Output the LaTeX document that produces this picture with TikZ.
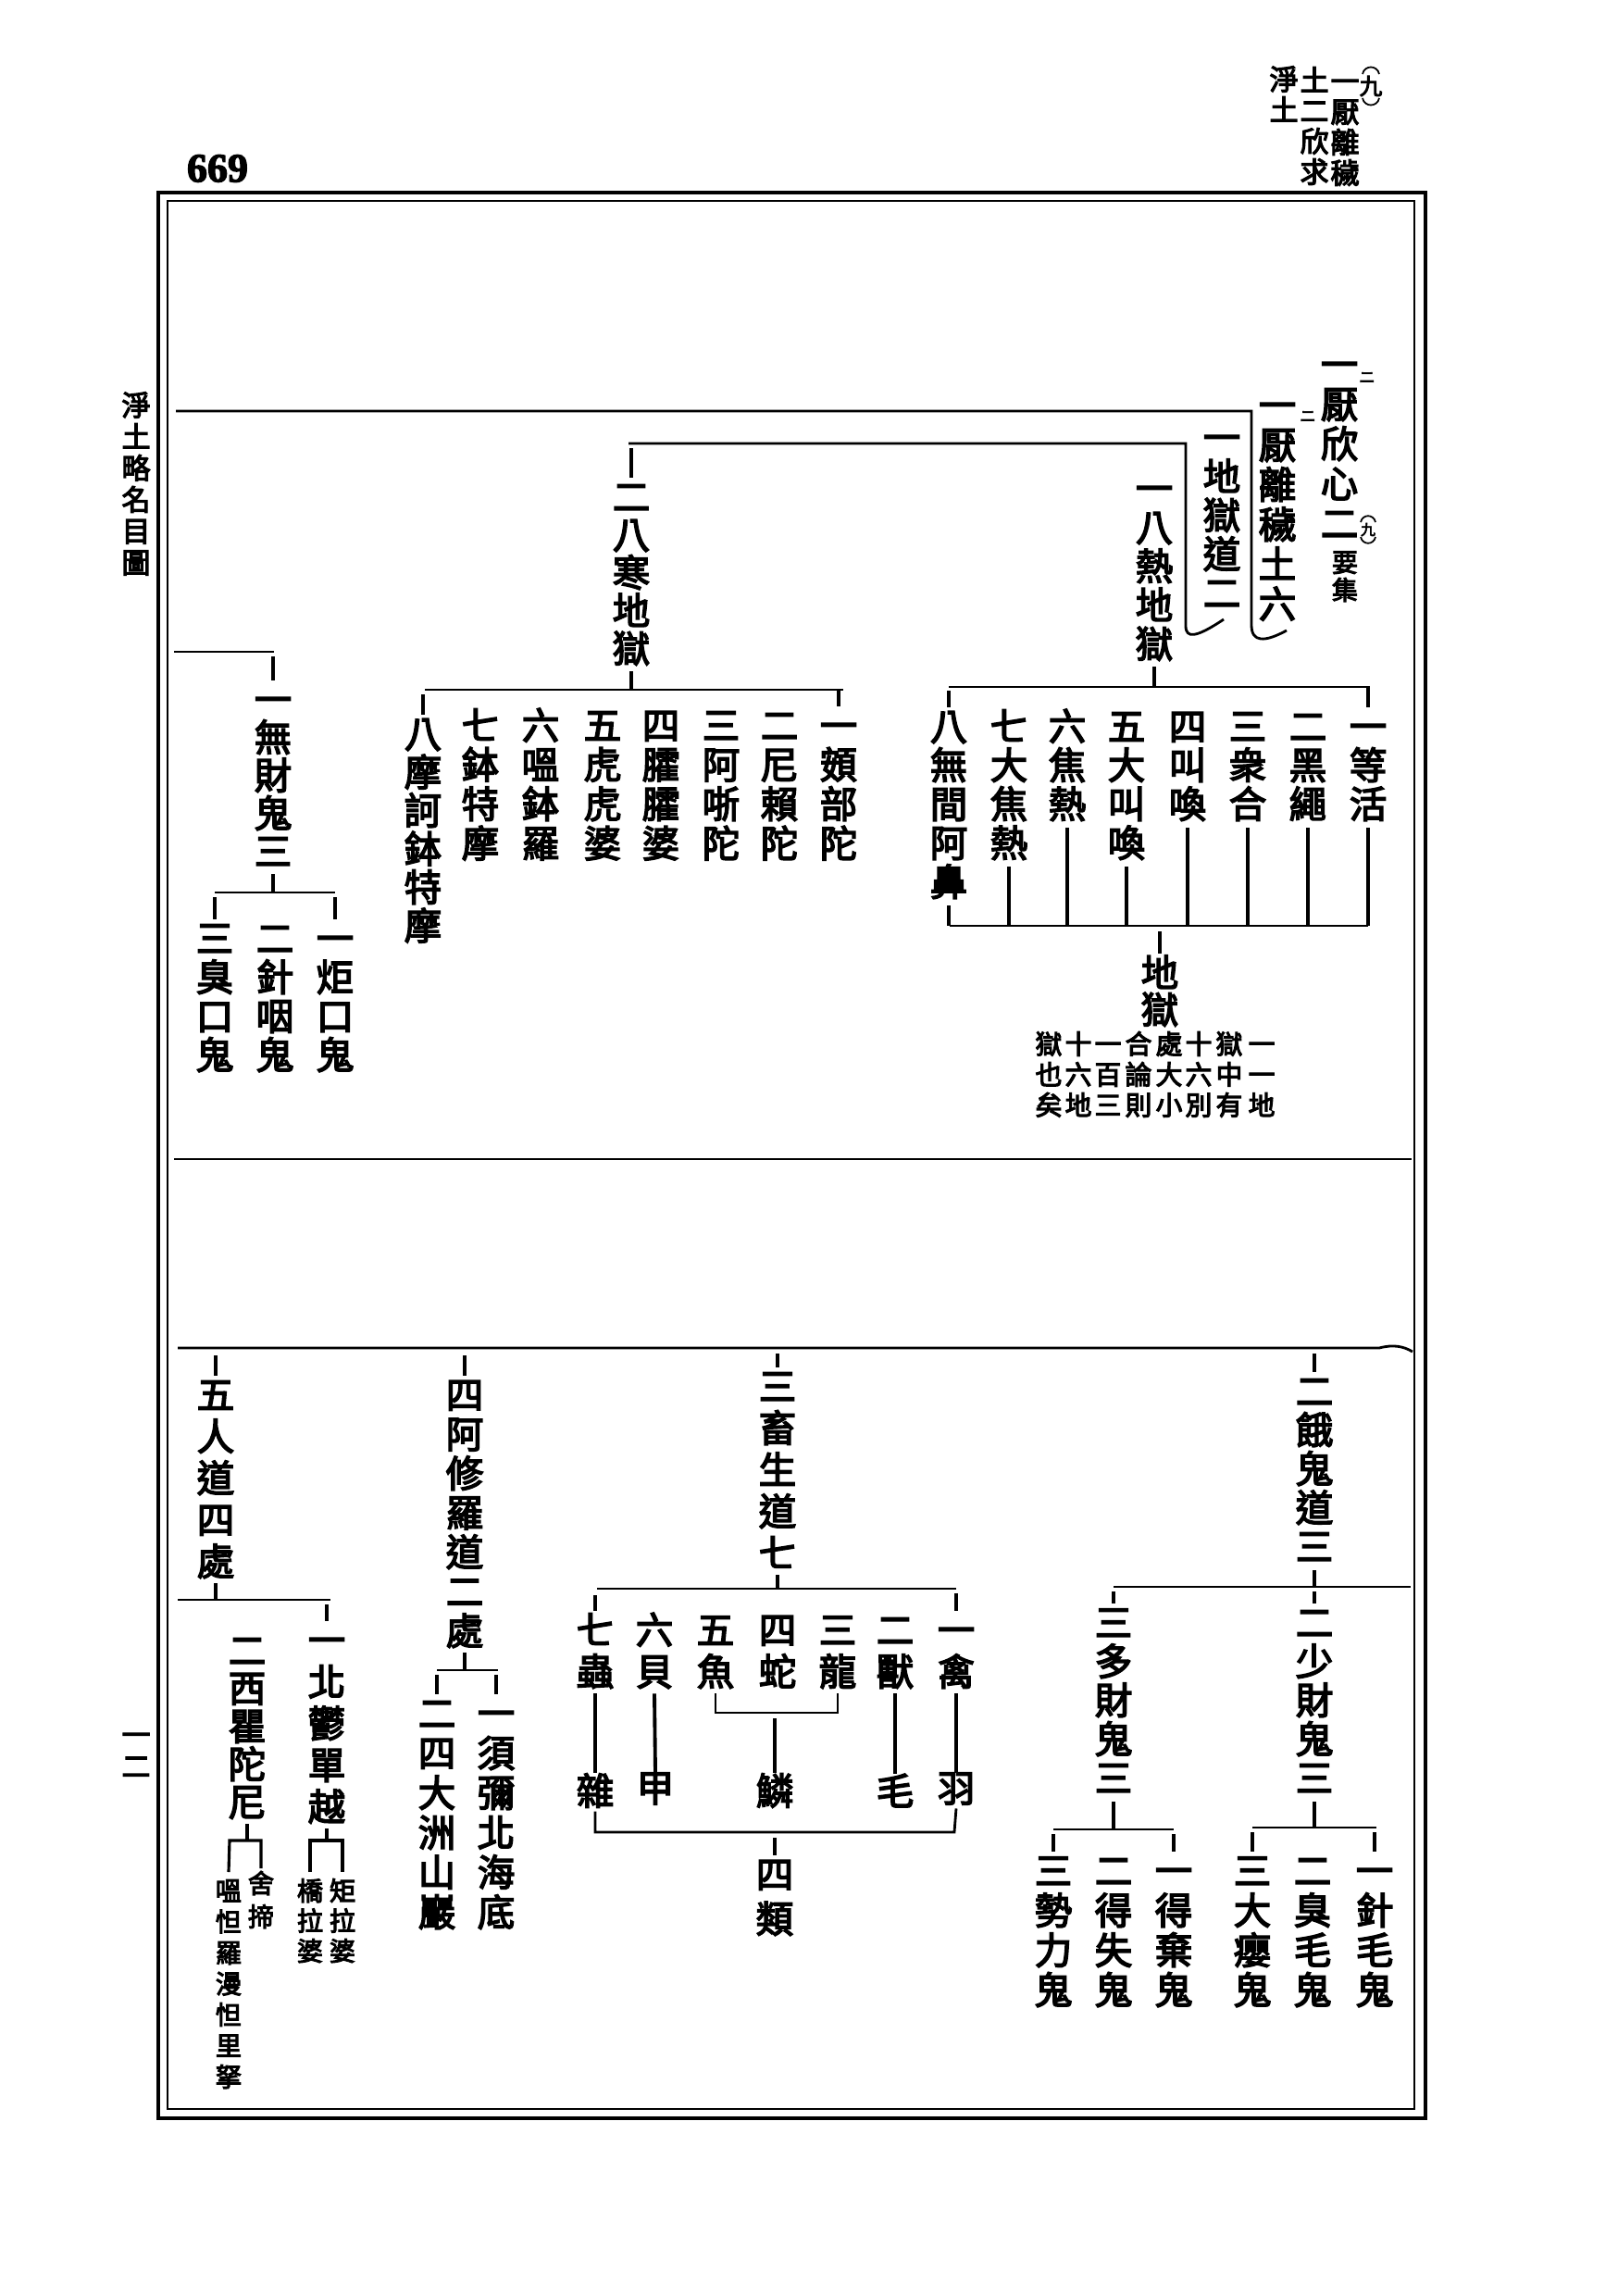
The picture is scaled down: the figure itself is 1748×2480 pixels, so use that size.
\documentclass[tikz,border=0pt]{standalone}
\usepackage{fontspec}
\setmainfont{Noto Sans CJK TC}[FakeBold=4]
\newfontfamily\numfont{Liberation Serif}[FakeBold=3]
\usetikzlibrary{calc}
\makeatletter
\newcommand\vt[2][11.95pt]{\vbox{\baselineskip=#1\lineskip=0pt\lineskiplimit=-\maxdimen\vt@a#2\vt@end}}
\def\vt@a#1{\ifx#1\vt@end\else\hbox to 1em{\hss\vrule height .88em depth .12em width 0pt\relax#1\hss}\expandafter\vt@a\fi}
\def\vt@end{\vt@end@}
\makeatother
\begin{document}
\begin{tikzpicture}[x=0.1mm,y=-0.1mm,
  every node/.style={inner sep=0pt,outer sep=0pt},
  col/.style={anchor=north,font=\fontsize{11.5}{12}\selectfont},
  scol/.style={anchor=north,font=\fontsize{8}{9}\selectfont},
  ncol/.style={anchor=north,font=\fontsize{8.2}{9}\selectfont},
  hcol/.style={anchor=north,font=\fontsize{8.8}{9}\selectfont},
  ch/.style={anchor=center,font=\fontsize{11.5}{12}\selectfont},
  tiny/.style={anchor=center,font=\fontsize{5}{5}\selectfont},
  ln/.style={line width=0.8pt},
  tk/.style={line width=0.9pt},
  par/.style={line width=0.5pt}]
\useasboundingbox (0,0) rectangle (1748,2480);
\fill[white] (0,0) rectangle (1748,2480);

% ---------- frame ----------
\draw[line width=1.3pt] (171,208) rectangle (1540,2288);
\draw[line width=0.7pt] (181,217) rectangle (1528,2278);

% ---------- header ----------
\node[font={\numfont\fontsize{12.5}{12.5}\selectfont\bfseries}] (pg) at (235,182) {669};
\node[font=\fontsize{7}{7}\selectfont] (hnine) at (1481,93) {九};
\draw[par] ($(hnine)+(-9,-13)$) .. controls ($(hnine)+(-7,-23)$) and ($(hnine)+(7,-23)$) .. ($(hnine)+(9,-13)$);
\draw[par] ($(hnine)+(-9,13)$) .. controls ($(hnine)+(-7,23)$) and ($(hnine)+(7,23)$) .. ($(hnine)+(9,13)$);
\node[hcol] (hA) at (1453,72) {\vt[9.39pt]{一厭離穢}};
\node[hcol] (hB) at (1420,71) {\vt[9.39pt]{土二欣求}};
\node[hcol] (hC) at (1387,70) {\vt[9.39pt]{淨土}};
\node[hcol] (side) at (147,422) {\vt[9.67pt]{淨土略名目圖}};
\node[hcol] (folio) at (147,1858) {\vt[9.67pt]{一二}};

% ---------- top section ----------
\node[col] (root) at (1447,373) {\vt[12.23pt]{一厭欣心二}};
\node[scol] (yaoji) at (1453,593) {\vt[8.54pt]{要集}};
\node[font=\fontsize{4.5}{5}\selectfont] (nine) at (1478,572) {九};
\draw[par] ($(nine)+(-8,-8)$) .. controls ($(nine)+(-6,-17)$) and ($(nine)+(6,-17)$) .. ($(nine)+(8,-8)$);
\draw[par] ($(nine)+(-8,8)$) .. controls ($(nine)+(-6,17)$) and ($(nine)+(6,17)$) .. ($(nine)+(8,8)$);
\node[tiny] (ni1) at (1477,408) {ニ};
\node[col] (enri) at (1380,417) {\vt[12.23pt]{一厭離穢土六}};
\node[tiny] (ni2) at (1413,450) {ニ};
\node[col] (jigokudo) at (1320,452) {\vt[11.95pt]{一地獄道二}};
\node[col] (netsu) at (1247,507) {\vt[11.95pt]{一八熱地獄}};
\node[col] (kan) at (682,516) {\vt[11.66pt]{二八寒地獄}};

% brackets
\coordinate (b444) at (190,444);
\draw[ln] (b444) -- (1352,444) -- (1352,675) .. controls (1352,694) and (1366,694) .. (1390,681);
\coordinate (b480) at (679,479);
\draw[ln] (b480) -- (1281,479) -- (1281,676) .. controls (1281,690) and (1292,689) .. (1322,669);
\draw[tk] (kan.north |- b480) ++(0,5) -- (kan.north);

% eight hot hells
\coordinate (h1) at (1025,742);
\draw[ln] (h1) -- (1480,742);
\draw[tk] (netsu.south) ++(0,5) -- (netsu.south |- h1);
\node[col] (n1) at (1478,764) {\vt{一等活}};
\node[col] (n2) at (1413,764) {\vt{二黑繩}};
\node[col] (n3) at (1348,764) {\vt{三衆合}};
\node[col] (n4) at (1283,764) {\vt{四叫喚}};
\node[col] (n5) at (1217,764) {\vt{五大叫喚}};
\node[col] (n6) at (1153,764) {\vt{六焦熱}};
\node[col] (n7) at (1090,764) {\vt{七大焦熱}};
\node[col] (n8) at (1025,764) {\vt{八無間阿鼻}};
\draw[tk] (n1.north |- h1) -- (n1.north);
\draw[tk] (n8.north |- h1) ++(0,4) -- (n8.north);
\coordinate (h2) at (1026,1000);
\draw[ln] (h2) -- (1478,1000);
\foreach \n in {n1,n2,n3,n4,n5,n6,n7,n8}{
  \draw[line width=1.1pt] (\n.south) ++(0,6) -- (\n.south |- h2);
}
\node[col] (jg) at (1253,1030) {\vt[11.38pt]{地獄}};
\draw[tk] (jg.north |- h2) ++(0,6) -- (jg.north);
\node[ncol] (nt1) at (1363,1113) {\vt[9.39pt]{一一地}};
\node[ncol] (nt2) at (1328,1113) {\vt[9.39pt]{獄中有}};
\node[ncol] (nt3) at (1295,1113) {\vt[9.39pt]{十六別}};
\node[ncol] (nt4) at (1263,1113) {\vt[9.39pt]{處大小}};
\node[ncol] (nt5) at (1230,1113) {\vt[9.39pt]{合論則}};
\node[ncol] (nt6) at (1197,1113) {\vt[9.39pt]{一百三}};
\node[ncol] (nt7) at (1165,1113) {\vt[9.39pt]{十六地}};
\node[ncol] (nt8) at (1133,1113) {\vt[9.39pt]{獄也矣}};

% eight cold hells
\coordinate (h3) at (459,745);
\draw[ln] (h3) -- (911,745);
\draw[tk] (kan.south) ++(0,5) -- (kan.south |- h3);
\node[col] (c1) at (906,763) {\vt[12.09pt]{一頞部陀}};
\node[col] (c2) at (842,763) {\vt[12.09pt]{二尼賴陀}};
\node[col] (c3) at (779,763) {\vt[12.09pt]{三阿哳陀}};
\node[col] (c4) at (714,763) {\vt[12.09pt]{四臛臛婆}};
\node[col] (c5) at (651,763) {\vt[12.09pt]{五虎虎婆}};
\node[col] (c6) at (584,763) {\vt[12.09pt]{六嗢鉢羅}};
\node[col] (c7) at (519,763) {\vt[12.09pt]{七鉢特摩}};
\node[col] (c8) at (457,772) {\vt[11.8pt]{八摩訶鉢特摩}};
\draw[tk] (c1.north |- h3) -- (c1.north);
\draw[tk] (c8.north |- h3) ++(0,5) -- (c8.north);

% hungry ghosts without wealth
\coordinate (h4) at (188,704);
\draw[ln] (h4) -- (296,704);
\node[col] (mz) at (295,735) {\vt[11.66pt]{一無財鬼三}};
\draw[tk] (mz.north |- h4) ++(0,5) -- (mz.north);
\coordinate (h5) at (232,964);
\draw[ln] (h5) -- (362,964);
\draw[tk] (mz.south) ++(0,5) -- (mz.south |- h5);
\node[col] (m1) at (362,993) {\vt{一炬口鬼}};
\node[col] (m2) at (297,993) {\vt{二針咽鬼}};
\node[col] (m3) at (232,993) {\vt{三臭口鬼}};
\draw[tk] (m1.north |- h5) ++(0,5) -- (m1.north);
\draw[tk] (m3.north |- h5) ++(0,5) -- (m3.north);

% dividers
\coordinate (d1) at (188,1252);
\draw[ln] (d1) -- (1525,1252);
\coordinate (d2) at (192,1456);
\draw[ln] (d2) -- (1490,1456) .. controls (1505,1452) and (1516,1454) .. (1526,1460);

% ---------- bottom section ----------
% hungry ghosts
\node[col] (gaki) at (1420,1482) {\vt[11.95pt]{二餓鬼道三}};
\draw[tk] (gaki.north |- d2) ++(0,6) -- (gaki.north);
\coordinate (h6) at (1203,1714);
\draw[ln] (h6) -- (1524,1714);
\draw[tk] (gaki.south) ++(0,6) -- (gaki.south |- h6);
\node[col] (shozai) at (1420,1732) {\vt[11.95pt]{二少財鬼三}};
\node[col] (tazai) at (1203,1732) {\vt[11.95pt]{三多財鬼三}};
\draw[tk] (shozai.north |- h6) ++(0,5) -- (shozai.north);
\draw[tk] (tazai.north |- h6) ++(0,5) -- (tazai.north);
\coordinate (h7) at (1353,1974);
\draw[ln] (h7) -- (1487,1974);
\coordinate (h8) at (1138,1976);
\draw[ln] (h8) -- (1268,1976);
\draw[tk] (shozai.south) ++(0,6) -- (shozai.south |- h7);
\draw[tk] (tazai.south) ++(0,6) -- (tazai.south |- h8);
\node[col] (g1) at (1485,2000) {\vt[12.23pt]{一針毛鬼}};
\node[col] (g2) at (1418,2000) {\vt[12.23pt]{二臭毛鬼}};
\node[col] (g3) at (1353,2000) {\vt[12.23pt]{三大癭鬼}};
\node[col] (g4) at (1268,2000) {\vt[12.23pt]{一得棄鬼}};
\node[col] (g5) at (1203,2000) {\vt[12.23pt]{二得失鬼}};
\node[col] (g6) at (1138,2000) {\vt[12.23pt]{三勢力鬼}};
\foreach \g/\h in {g1/h7,g3/h7,g4/h8,g6/h8}{
  \draw[tk] (\g.north |- \h) ++(0,5) -- (\g.north);
}

% animals
\node[col] (chiku) at (840,1477) {\vt[12.8pt]{三畜生道七}};
\draw[tk] (chiku.north |- d2) ++(0,6) -- (chiku.north);
\coordinate (h9) at (645,1716);
\draw[ln] (h9) -- (1033,1716);
\draw[tk] (chiku.south) ++(0,4) -- (chiku.south |- h9);
\node[col] (a1) at (1033,1740) {\vt[12.8pt]{一禽}};
\node[col] (a2) at (967,1740) {\vt[12.8pt]{二獸}};
\node[col] (a3) at (905,1740) {\vt[12.8pt]{三龍}};
\node[col] (a4) at (840,1740) {\vt[12.8pt]{四蛇}};
\node[col] (a5) at (773,1740) {\vt[12.8pt]{五魚}};
\node[col] (a6) at (707,1740) {\vt[12.8pt]{六貝}};
\node[col] (a7) at (643,1740) {\vt[12.8pt]{七蟲}};
\draw[tk] (a1.north |- h9) ++(0,5) -- (a1.north);
\draw[tk] (a7.north |- h9) ++(0,7) -- (a7.north);
\node[ch] (u1) at (1033,1932) {羽};
\node[ch] (u2) at (967,1934) {毛};
\node[ch] (u3) at (837,1934) {鱗};
\node[ch] (u4) at (708,1932) {甲};
\node[ch] (u5) at (643,1934) {雜};
\draw[line width=1.1pt] (a1.south) ++(0,4) -- (u1.north);
\draw[line width=1.1pt] (a2.south) ++(0,4) -- (u2.north);
\draw[line width=1.1pt] (a6.south) ++(0,4) -- (u4.north);
\draw[line width=1.1pt] (a7.south) ++(0,4) -- (u5.north);
\coordinate (h10) at (773,1850);
\draw[ln] (a5.south) ++(0,4) -- (h10) -- (a3.south |- h10) -- ([yshift=-0.4mm]a3.south);
\draw[tk] (u3.north |- h10) ++(0,6) -- (u3.north);
\coordinate (h11) at (645,1979);
\draw[ln] (u5.south) ++(0,4) -- (u5.south |- h11) -- (1031,1979) -- ([yshift=-0.4mm]u1.south);
\node[col] (rui) at (837,2004) {\vt[13.66pt]{四類}};
\draw[tk] (rui.north |- h11) ++(0,6) -- (rui.north);

% asura
\node[col] (asura) at (502,1486) {\vt[12.09pt]{四阿修羅道二處}};
\draw[tk] (asura.north |- d2) ++(0,8) -- (asura.north);
\coordinate (h12) at (472,1804);
\draw[ln] (h12) -- (538,1804);
\draw[tk] (asura.south) ++(0,4) -- (asura.south |- h12);
\node[col] (s1) at (536,1830) {\vt[12.23pt]{一須彌北海底}};
\node[col] (s2) at (472,1830) {\vt[12.23pt]{二四大洲山巖}};
\draw[tk] (s1.north |- h12) ++(0,5) -- (s1.north);
\draw[tk] (s2.north |- h12) ++(0,5) -- (s2.north);

% humans
\node[col] (nin) at (233,1486) {\vt[12.8pt]{五人道四處}};
\draw[tk] (nin.north |- d2) ++(0,8) -- (nin.north);
\coordinate (h13) at (192,1728);
\draw[ln] (h13) -- (357,1728);
\draw[tk] (nin.south) ++(0,4) -- (nin.south |- h13);
\node[col] (p1) at (353,1751) {\vt[12.8pt]{一北鬱單越}};
\node[col] (p2) at (267,1762) {\vt[11.66pt]{二西瞿陀尼}};
\draw[tk] (p1.north |- h13) ++(0,5) -- (p1.north);
\coordinate (h14) at (335,1988);
\draw[tk] (p1.south) ++(0,4) -- (p1.south |- h14);
\node[scol] (q1) at (370,2028) {\vt[9.25pt]{矩拉婆}};
\node[scol] (q2) at (335,2028) {\vt[9.25pt]{橋拉婆}};
\draw[tk] (q2.north) ++(0,-6) -- (h14) -- (q1.north |- h14) -- ([yshift=0.6mm]q1.north);
\coordinate (h15) at (248,1988);
\draw[tk] (p2.south) ++(0,4) -- (p2.south |- h15);
\node[scol] (q3) at (282,2020) {\vt[10.24pt]{舍揥}};
\node[scol] (q4) at (247,2028) {\vt[9.53pt]{嗢怛羅漫怛里拏}};
\draw[tk] (q4.north) ++(0,-6) -- (h15) -- (q3.north |- h15) -- ([yshift=0.2mm]q3.north);
\end{tikzpicture}
\end{document}
